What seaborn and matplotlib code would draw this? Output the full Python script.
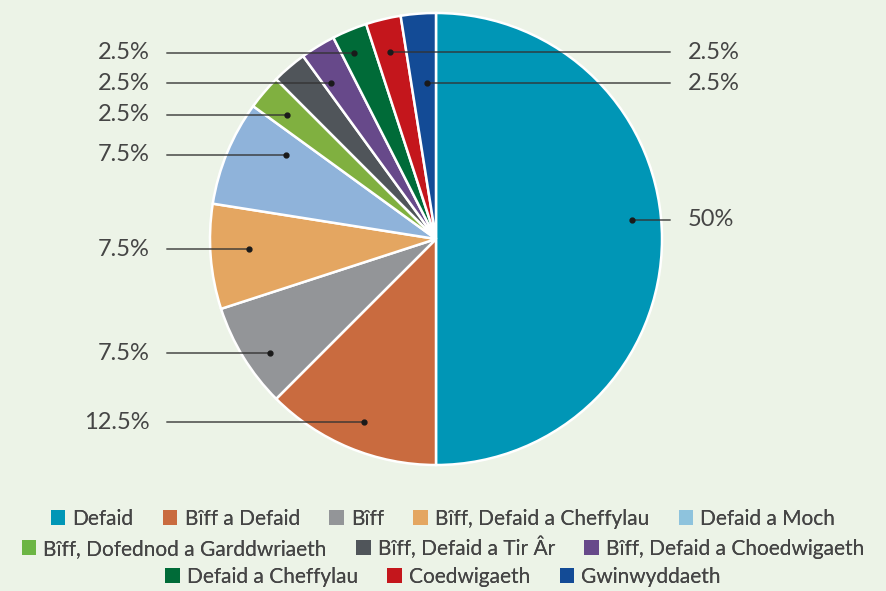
import numpy as np
import seaborn as sns
import matplotlib.pyplot as plt
from matplotlib.patches import Patch

categories = ['Defaid', 'Bîff a Defaid', 'Bîff', 'Bîff, Defaid a Cheffylau', 'Defaid a Moch',
              'Bîff, Dofednod a Garddwriaeth', 'Bîff, Defaid a Tir Âr', 'Bîff, Defaid a Choedwigaeth',
              'Defaid a Cheffylau', 'Coedwigaeth', 'Gwinwyddaeth']
shares = [50, 12.5, 7.5, 7.5, 7.5, 2.5, 2.5, 2.5, 2.5, 2.5, 2.5]
pct_labels = ['50%', '12.5%', '7.5%', '7.5%', '7.5%', '2.5%', None, '2.5%', '2.5%', '2.5%', '2.5%']
colors = ['#0096b6', '#c96b3f', '#939598', '#e4a661', '#8fb3da', '#80b040',
          '#50555a', '#67498a', '#006b38', '#c4161c', '#134b96']
legend_colors = ['#0096b6', '#c96b3f', '#939598', '#e4a661', '#8ec3dd', '#6cb544',
                 '#50555a', '#67498a', '#006b38', '#c4161c', '#134b96']

# where the leader dot sits inside each wedge, and which side the label goes
dot_r = [0.87, 0.87, 0.89, 0.83, 0.76, 0.86, 0.85, 0.83, 0.90, 0.85, 0.69]
dot_nudge = [5.6, 1.1, 3.1, -1.4, -6.9, 0.7, 0, 2.4, 1.2, 0.3, -1.2]
side = ['R', 'L', 'L', 'L', 'L', 'L', 'L', 'L', 'L', 'R', 'R']

bg = '#ecf3e7'
txt = '#454545'
sns.set_theme(style='white')
plt.rcParams['font.family'] = ['Lato', 'DejaVu Sans']
pal = sns.color_palette(colors)

fig = plt.figure(figsize=(8.86, 5.91), dpi=100)
fig.patch.set_facecolor(bg)
ax = fig.add_axes([0, 0, 1, 1])
ax.set_facecolor(bg)

wedges, _ = ax.pie(shares, colors=pal, startangle=90, counterclock=False,
                   wedgeprops=dict(edgecolor='white', linewidth=1.8))
ax.set_xlim(-1.929, 1.991)
ax.set_ylim(-1.5575, 1.0575)
ax.set_aspect('equal')
ax.axis('off')

for i, w in enumerate(wedges):
    if pct_labels[i] is None:
        continue
    ang = np.deg2rad((w.theta1 + w.theta2) / 2 + dot_nudge[i])
    x, y = dot_r[i] * np.cos(ang), dot_r[i] * np.sin(ang)
    if side[i] == 'L':
        xe, xt, ha = -1.19, -1.265, 'right'
    else:
        xe, xt, ha = 1.035, 1.115, 'left'
    ax.plot([x, xe], [y, y], color='#333333', alpha=0.7, lw=1.4, zorder=5)
    ax.plot(x, y, 'o', color='#1a1a1a', ms=3.5, zorder=6)
    ax.text(xt, y, pct_labels[i], ha=ha, va='center', fontsize=17, color=txt)

handles = [Patch(facecolor=c, edgecolor='none') for c in legend_colors]
rows = [(0, 5, 0.122), (5, 8, 0.073), (8, 11, 0.024)]
for a, b, yy in rows:
    leg = fig.legend(handles[a:b], categories[a:b], loc='center', bbox_to_anchor=(0.5, yy),
                     ncol=b - a, frameon=False, fontsize=15, handlelength=0.7,
                     handleheight=0.7, handletextpad=0.35, columnspacing=1.4)
    for t in leg.get_texts():
        t.set_color(txt)
    fig.add_artist(leg)

fig.savefig('out.png', dpi=100, facecolor=bg)
